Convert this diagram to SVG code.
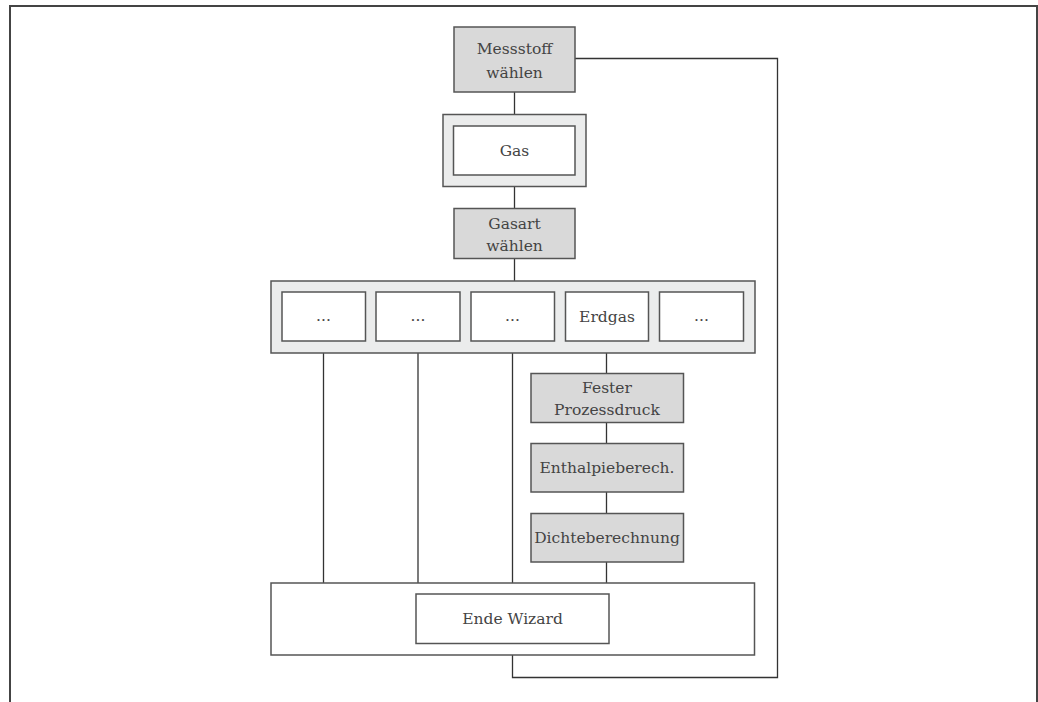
<svg xmlns="http://www.w3.org/2000/svg" width="1038" height="702" viewBox="0 0 1038 702">
<style>
.t{font-family:"DejaVu Serif","Liberation Serif",serif;font-size:15.5px;fill:#444;text-anchor:middle}
.g{fill:#d9d9d9;stroke:#555;stroke-width:1.5}
.w{fill:#fff;stroke:#555;stroke-width:1.5}
.o{fill:#ebecec;stroke:#555;stroke-width:1.5}
.c{fill:none;stroke:#333;stroke-width:1.3}
</style>
<rect width="1038" height="702" fill="#fff"/>
<path d="M10 702 V6 H1037 V702" fill="none" stroke="#444" stroke-width="2"/>
<g id="connectors">
<path class="c" d="M514.5 92 V114"/>
<path class="c" d="M514.5 187 V208"/>
<path class="c" d="M514.5 258 V281"/>
<path class="c" d="M575 58.5 H777.5 V677.5 H512.5 V655"/>
<path class="c" d="M323.5 353 V583"/>
<path class="c" d="M418 353 V583"/>
<path class="c" d="M512.5 353 V583"/>
<path class="c" d="M606.5 353 V373 M606.5 423 V443 M606.5 492 V513 M606.5 562 V583" stroke="#777"/>
</g>
<g id="messstoff"><rect class="g" x="454" y="27" width="121" height="65"/><text class="t" x="514.5" y="53.5">Messstoff</text><text class="t" x="514.5" y="77.5">wählen</text></g>
<g id="gas"><rect class="o" x="443" y="114.5" width="143" height="72"/><rect class="w" x="453.5" y="126" width="121.5" height="49"/><text class="t" x="514.5" y="156">Gas</text></g>
<g id="gasart"><rect class="g" x="454" y="208.5" width="121" height="50"/><text class="t" x="514.5" y="228.5">Gasart</text><text class="t" x="514.5" y="251">wählen</text></g>
<g id="gasarten"><rect class="o" x="271" y="281" width="484" height="72"/>
<rect class="w" x="282" y="292" width="83.5" height="49"/><text class="t" x="323.5" y="321">...</text>
<rect class="w" x="376" y="292" width="84" height="49"/><text class="t" x="418" y="321">...</text>
<rect class="w" x="471" y="292" width="83.5" height="49"/><text class="t" x="512.5" y="321">...</text>
<rect class="w" x="565.5" y="292" width="83" height="49"/><text class="t" x="607" y="321.5">Erdgas</text>
<rect class="w" x="659.5" y="292" width="84" height="49"/><text class="t" x="701.5" y="321">...</text></g>
<g id="fester"><rect class="g" x="531" y="373.5" width="152.5" height="49"/><text class="t" x="607" y="392.5">Fester</text><text class="t" x="607" y="415">Prozessdruck</text></g>
<g id="enthalpie"><rect class="g" x="531" y="443.5" width="152.5" height="48.5"/><text class="t" x="607" y="473">Enthalpieberech.</text></g>
<g id="dichte"><rect class="g" x="531" y="513.5" width="152.5" height="48.5"/><text class="t" x="607" y="543">Dichteberechnung</text></g>
<g id="ende"><rect class="w" x="271" y="583" width="483.5" height="72"/><rect class="w" x="416" y="594" width="193" height="49.5"/><text class="t" x="512.5" y="624">Ende Wizard</text></g>
</svg>
